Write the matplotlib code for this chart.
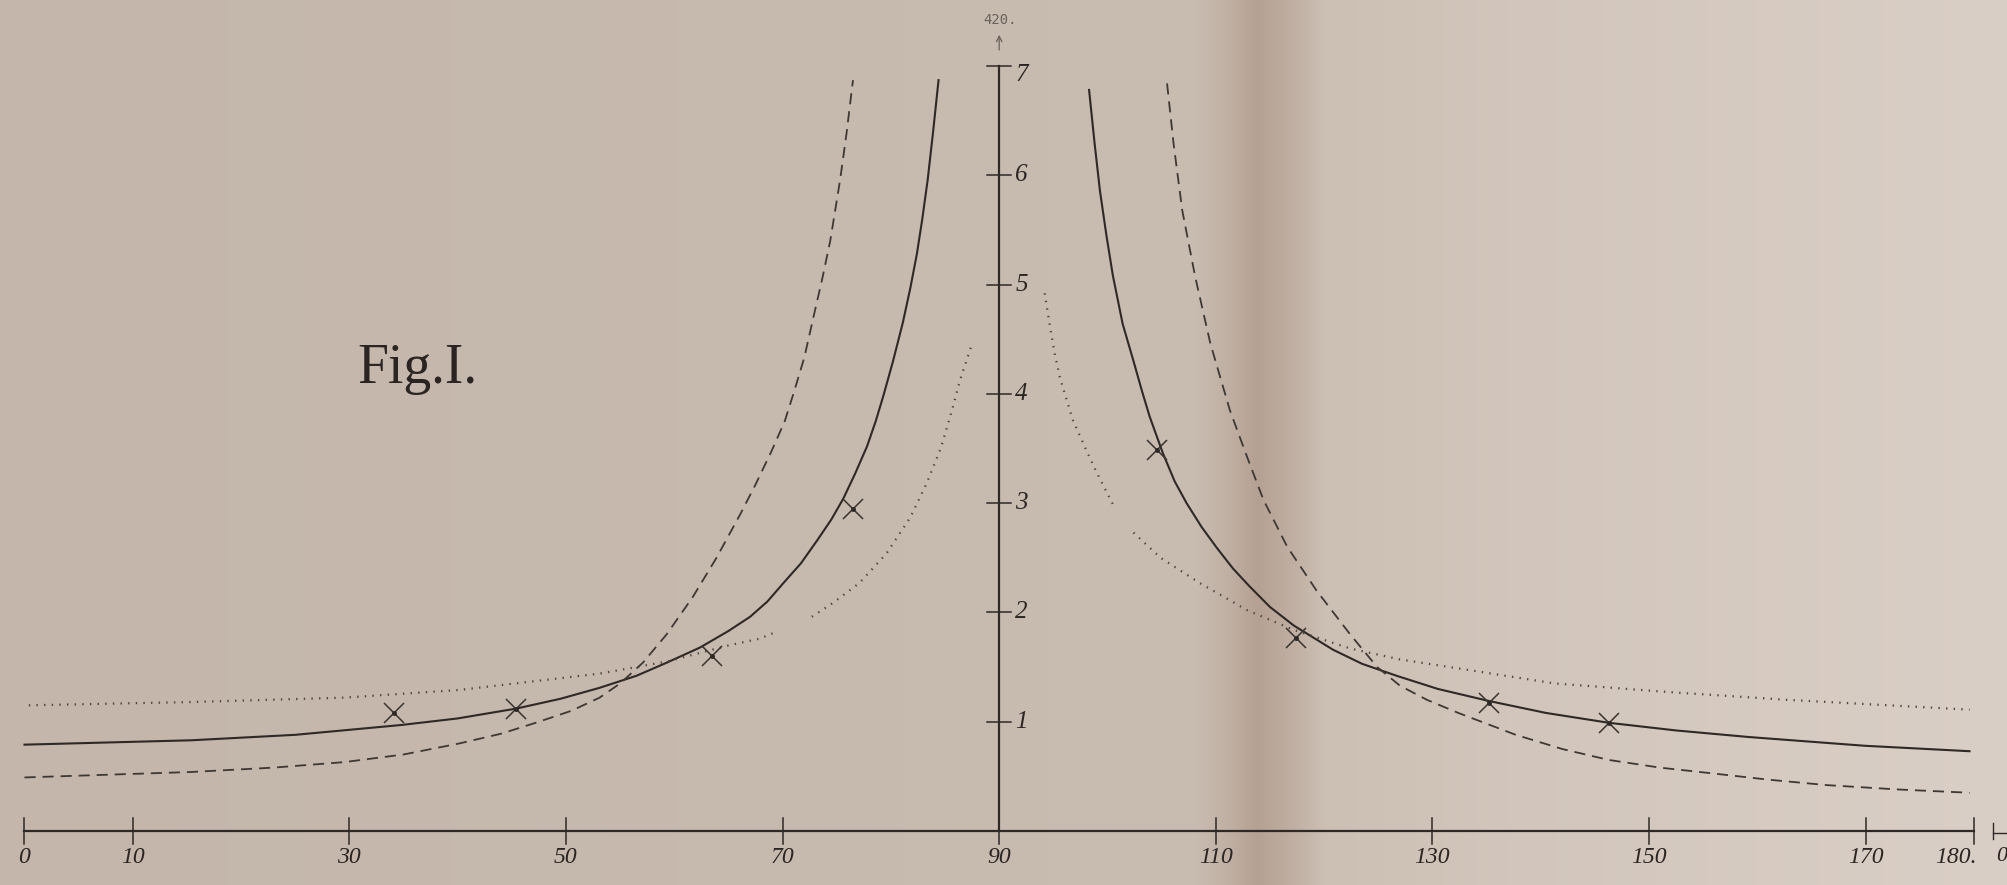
import matplotlib
matplotlib.use("Agg")
import matplotlib.pyplot as plt
import numpy as np

# values (x in degrees, y in axis units)
solid_left_x = [0, 15.4, 25, 34.8, 40, 45.4, 49.5, 53.1, 56.5, 59.3, 62.4, 65.0, 67.0, 68.6, 70.0,
                71.7, 73.2, 74.5, 75.6, 76.7, 77.8, 78.6, 79.3, 80.2, 81.1, 81.8, 82.4, 82.9, 83.4, 83.9, 84.4]
solid_left_y = [0.79, 0.83, 0.88, 0.97, 1.03, 1.12, 1.21, 1.31, 1.42, 1.54, 1.68, 1.83, 1.96, 2.10, 2.26,
                2.45, 2.66, 2.85, 3.04, 3.27, 3.52, 3.75, 3.98, 4.30, 4.65, 4.97, 5.28, 5.60, 5.96, 6.40, 6.87]

dashed_left_x = [0, 15.4, 23, 29.5, 35, 40.1, 44, 47.2, 50.5, 53.1, 55.0, 57.1, 59.3, 61.7, 63.9, 66.1,
                 67.5, 69.0, 70.2, 71.0, 72.0, 72.8, 73.7, 74.4, 75.3, 75.9, 76.5]
dashed_left_y = [0.49, 0.54, 0.58, 0.63, 0.70, 0.80, 0.89, 0.99, 1.10, 1.22, 1.35, 1.54, 1.80, 2.14, 2.50, 2.90,
                 3.17, 3.48, 3.75, 4.00, 4.33, 4.68, 5.07, 5.40, 5.95, 6.38, 6.87]

dotted_left_a_x = [0.4, 15.4, 29.5, 40.1, 53.1, 59.3, 65.1, 67.9, 69.6]
dotted_left_a_y = [1.15, 1.18, 1.22, 1.29, 1.44, 1.55, 1.70, 1.76, 1.83]
dotted_left_b_x = [72.7, 74.7, 77.1, 79.6, 81.8, 83.3, 84.6, 85.5, 86.4, 87.0, 87.5]
dotted_left_b_y = [1.96, 2.09, 2.27, 2.54, 2.87, 3.18, 3.50, 3.80, 4.13, 4.31, 4.46]

solid_right_x = [98.3, 98.8, 99.3, 99.9, 100.5, 101.4, 102.4, 103.2, 103.9, 105.1, 106.2, 107.3, 108.7, 110.1,
                 111.6, 113.1, 115.0, 117.2, 120.8, 123.5, 126.7, 130.5, 135.2, 140.5, 146.3, 152.5, 159.2,
                 169.9, 179.6]
solid_right_y = [6.78, 6.30, 5.86, 5.45, 5.08, 4.64, 4.30, 4.02, 3.79, 3.46, 3.20, 3.00, 2.78, 2.59,
                 2.40, 2.24, 2.05, 1.88, 1.66, 1.53, 1.42, 1.30, 1.19, 1.08, 0.99, 0.92, 0.86,
                 0.78, 0.73]

dashed_right_x = [105.5, 106.1, 106.9, 108.1, 109.5, 111.3, 112.9, 114.4, 116.6, 119.3, 122.4, 124.9, 127.0,
                  129.5, 132.4, 137.7, 142.0, 146.3, 151.0, 155.6, 161.0, 166.4, 173.0, 179.6]
dashed_right_y = [6.84, 6.29, 5.68, 5.07, 4.46, 3.85, 3.42, 3.03, 2.60, 2.20, 1.80, 1.50, 1.33,
                  1.20, 1.08, 0.88, 0.75, 0.65, 0.58, 0.53, 0.47, 0.42, 0.38, 0.35]

dotted_right_a_x = [94.2, 94.7, 95.1, 95.6, 96.8, 98.2, 99.0, 100.7]
dotted_right_a_y = [4.92, 4.61, 4.38, 4.15, 3.76, 3.45, 3.28, 2.95]
dotted_right_b_x = [102.4, 104.9, 108.5, 112.9, 117.2, 122.4, 127.0, 134.2, 141.3, 152.0, 162.8, 179.6]
dotted_right_b_y = [2.73, 2.50, 2.27, 2.02, 1.84, 1.67, 1.57, 1.46, 1.35, 1.27, 1.20, 1.11]

# observed points (crosses)
cross_x = [34.1, 45.4, 63.5, 76.5, 104.6, 117.4, 135.2, 146.3]
cross_y = [1.08, 1.12, 1.60, 2.95, 3.49, 1.77, 1.17, 0.99]

x_ticks = [0, 10, 30, 50, 70, 90, 110, 130, 150, 170, 180]
x_labels = ["0", "10", "30", "50", "70", "90", "110", "130", "150", "170", "180."]
y_ticks = [1, 2, 3, 4, 5, 6, 7]
y_labels = ["1", "2", "3", "4", "5", "6", "7"]

plt.rcParams['lines.scale_dashes'] = False

fig = plt.figure(figsize=(20.08, 8.85), dpi=100)
ax = fig.add_axes([0, 0, 1, 1])
x0, x1 = -2.262, 183.15
y0, y1 = -0.494, 7.603
ax.set_xlim(x0, x1)
ax.set_ylim(y0, y1)
ax.axis('off')

# paper tone, darker fold right of the middle
stops = [0.0, 0.45, 0.595, 0.612, 0.626, 0.642, 0.66, 0.75, 1.0]
r = [196, 199, 201, 192, 181, 190, 204, 210, 218]
g = [182, 186, 188, 176, 161, 173, 191, 198, 207]
b = [170, 175, 177, 163, 147, 160, 179, 188, 198]
t = np.linspace(0, 1, 800)
paper = np.stack([np.interp(t, stops, r), np.interp(t, stops, g), np.interp(t, stops, b)], axis=-1) / 255
ax.imshow(paper[None, :, :], extent=[x0, x1, y0, y1], aspect='auto', zorder=0)

ink = '#2e2926'
ax.plot(solid_left_x, solid_left_y, color=ink, lw=1.5, zorder=3)
ax.plot(solid_right_x, solid_right_y, color=ink, lw=1.5, zorder=3)
for xs, ys in [(dashed_left_x, dashed_left_y), (dashed_right_x, dashed_right_y)]:
    ax.plot(xs, ys, color='#3e3834', lw=1.3, ls=(0, (8, 5)), zorder=3)
for xs, ys in [(dotted_left_a_x, dotted_left_a_y), (dotted_left_b_x, dotted_left_b_y),
               (dotted_right_a_x, dotted_right_a_y), (dotted_right_b_x, dotted_right_b_y)]:
    ax.plot(xs, ys, color='#4d4541', lw=1.6, ls=(0, (1, 4.5)), zorder=3)

ax.plot(cross_x, cross_y, ls='none', marker='x', ms=15, mew=1.1, color='#3a3430', zorder=4)
ax.plot(cross_x, cross_y, ls='none', marker='.', ms=5, color=ink, zorder=4)

# axes drawn by hand like the plate
ax.plot([0, 180], [0, 0], color=ink, lw=1.6, zorder=2)
ax.plot([90, 90], [0, 7], color=ink, lw=1.6, zorder=2)
for xt, lab in zip(x_ticks, x_labels):
    ax.plot([xt, xt], [-0.12, 0.12], color=ink, lw=1.1, zorder=2)
    ax.text(xt + (0.3 if lab == "180." else 0), -0.15, lab, ha='right' if lab == "180." else 'center',
            va='top', fontsize=17, family='Liberation Serif', style='italic', color='#2a2522')
ax.plot([181.8, 181.8], [-0.07, 0.07], color=ink, lw=1.0)
ax.plot([181.8, 183.2], [-0.02, -0.02], color=ink, lw=1.0)
ax.text(182.6, -0.15, "0", ha='center', va='top', fontsize=16, family='Liberation Serif',
        style='italic', color='#2a2522')

for yt, lab in zip(y_ticks, y_labels):
    ax.plot([88.9, 91.1], [yt, yt], color=ink, lw=1.1, zorder=2)
    ax.text(91.5, yt - (0.08 if yt == 7 else 0), lab, ha='left', va='center', fontsize=18,
            family='Liberation Serif', style='italic', color='#2a2522')

ax.annotate('', xy=(90, 7.31), xytext=(90, 7.12),
            arrowprops=dict(arrowstyle='->', color='#6a625c', lw=0.9))
ax.text(90.1, 7.42, "420.", ha='center', va='center', fontsize=10, family='DejaVu Sans Mono',
        color='#6a625c')

ax.text(30.7, 4.10, "Fig.I.", ha='left', va='baseline', fontsize=40, family='Liberation Serif',
        color='#2a2522')

fig.savefig('out.png', dpi=100)
